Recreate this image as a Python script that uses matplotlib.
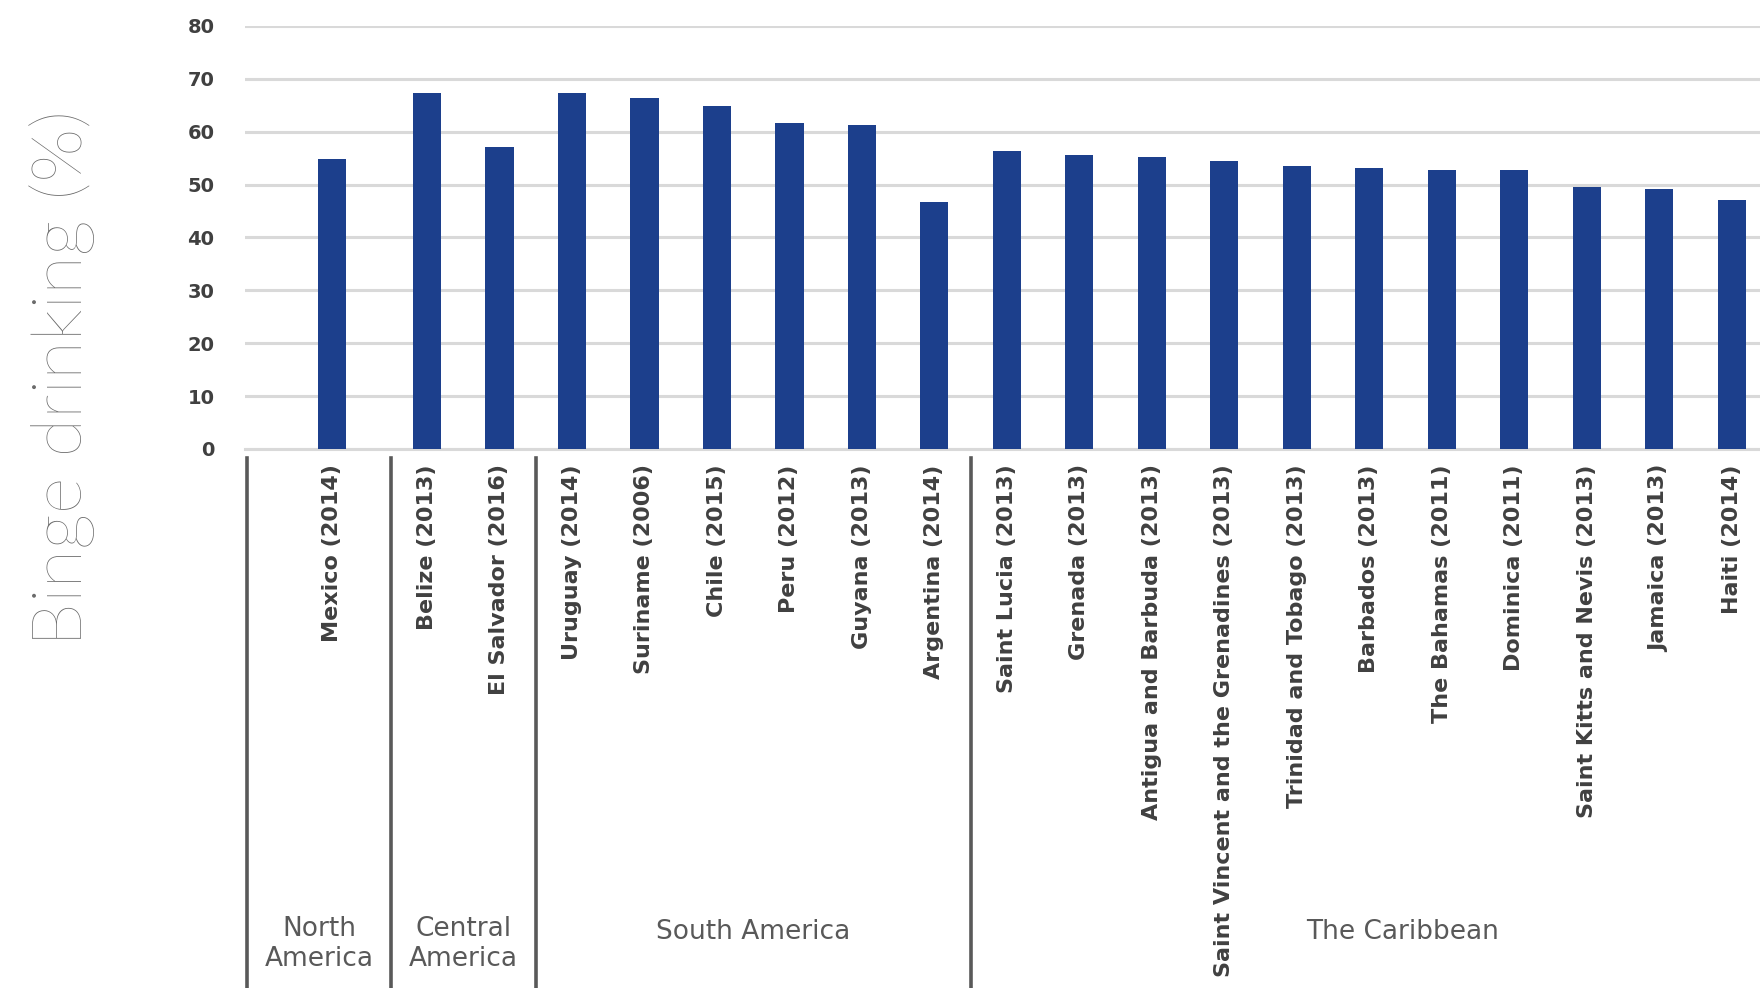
import matplotlib.pyplot as plt
import numpy as np

# values
countries = ["Mexico (2014)", "Belize (2013)", "El Salvador (2016)",
             "Uruguay (2014)", "Suriname (2006)", "Chile (2015)", "Peru (2012)",
             "Guyana (2013)", "Argentina (2014)", "Saint Lucia (2013)",
             "Grenada (2013)", "Antigua and Barbuda (2013)",
             "Saint Vincent and the Grenadines (2013)",
             "Trinidad and Tobago (2013)", "Barbados (2013)",
             "The Bahamas (2011)", "Dominica (2011)",
             "Saint Kitts and Nevis (2013)", "Jamaica (2013)", "Haiti (2014)"]
binge = [54.8, 67.3, 57.1, 67.3, 66.4, 64.8, 61.6, 61.2, 46.7, 56.3,
         55.6, 55.2, 54.4, 53.5, 53.1, 52.7, 52.7, 49.5, 49.1, 47.1]
regions = ["North\nAmerica", "Central\nAmerica", "South America", "The Caribbean"]
region_sizes = [1, 2, 6, 11]

BAR = "#1c3f8c"
GRID = "#d9d9d9"
DARK = "#595959"

fig = plt.figure(figsize=(17.6, 9.88), dpi=100)
W, H = 1760, 988
ax = fig.add_axes([245 / W, 1 - 449 / H, 1 - 245 / W, 423 / H])

# Mexico sits a bit left of the regular slot grid in the original
x = np.arange(len(countries), dtype=float)
x[1:] += 0.31

ax.bar(x, binge, width=0.39, color=BAR, zorder=3)

ax.set_ylim(0, 80)
ax.set_xlim(-1.2, 19.7)
ax.set_yticks(np.arange(0, 81, 10))
ax.yaxis.grid(True, color=GRID, linewidth=2.2, zorder=0)
ax.set_axisbelow(True)
for s in ["top", "right", "left"]:
    ax.spines[s].set_visible(False)
ax.spines["bottom"].set_color(GRID)
ax.spines["bottom"].set_linewidth(2.2)

ax.tick_params(axis="y", length=0, pad=22, labelsize=14, labelcolor="#404040")
for t in ax.get_yticklabels():
    t.set_fontweight("bold")

ax.set_xticks(x)
ax.set_xticklabels(countries, rotation=90, ha="center", va="top",
                   fontsize=16, fontweight="bold", color="#404040")
ax.tick_params(axis="x", length=0, pad=11)

fig.text(62 / W, 1 - 378 / H, "Binge drinking (%)", rotation=90,
         ha="center", va="center", fontsize=51, color="#6a6a6a",
         family=["Lato", "DejaVu Sans"], fontweight="light")

# region dividers and names under the category labels
trans = ax.get_xaxis_transform()
ends = np.cumsum(region_sizes)
bounds = [ax.get_xlim()[0] + 0.03]
for e in ends[:-1]:
    bounds.append(x[e] - 0.5)
bounds.append(ax.get_xlim()[1] + 1.03)  # last region runs past the visible edge

y_top = (449 - 458) / 423
y_bot = (449 - 1000) / 423
for b in bounds[:-1]:
    ax.plot([b, b], [y_top, y_bot], transform=trans, color=DARK,
            linewidth=2.6, clip_on=False)

for name, lo, hi in zip(regions, bounds[:-1], bounds[1:]):
    if "\n" in name:
        ty, va = (449 - 916) / 423, "top"
    else:
        ty, va = (449 - 932) / 423, "center"
    ax.text((lo + hi) / 2, ty, name, transform=trans, ha="center", va=va,
            fontsize=19, color=DARK, linespacing=1.2)

fig.savefig("out.png", dpi=100)
